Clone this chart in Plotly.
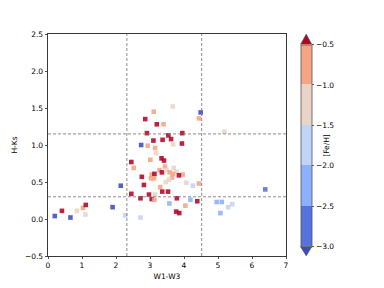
import plotly.graph_objects as go

# ---- data ----
R, S, P, L, M, D, B = -0.3, -0.75, -1.25, -1.75, -2.25, -2.75, -3.2

w1w3 = [0.20, 0.41, 0.66, 0.85, 1.03, 1.10, 1.11, 1.90, 2.14, 2.27,
        2.72, 2.45, 2.72, 2.76, 2.97, 3.05, 3.13, 3.15, 2.82, 3.30,
        3.36, 3.53, 3.46, 4.07, 4.26, 4.44, 3.79, 3.57, 4.19, 4.39,
        4.04, 3.77, 3.86, 4.96, 5.11, 5.42, 5.30, 5.07, 6.39, 2.45,
        2.52, 3.01, 3.34, 3.41, 3.44, 3.28, 3.35, 3.48, 3.58, 3.70,
        3.78, 3.68, 3.96, 3.85, 3.05, 3.13, 3.03, 3.12, 3.65, 3.56,
        2.93, 2.74, 3.10, 3.37, 3.62, 3.68, 3.94, 3.15, 3.18, 2.91,
        3.54, 3.95, 5.19, 2.86, 3.20, 3.40, 3.11, 3.67, 4.49, 4.44]
hks = [0.04, 0.11, 0.02, 0.11, 0.15, 0.06, 0.19, 0.16, 0.45, 0.05,
       0.02, 0.34, 0.28, 0.57, 0.33, 0.27, 0.26, 0.33, 0.46, 0.43,
       0.37, 0.37, 0.50, 0.49, 0.45, 0.48, 0.28, 0.21, 0.26, 0.24,
       0.18, 0.10, 0.08, 0.23, 0.23, 0.20, 0.16, 0.08, 0.40, 0.77,
       0.69, 0.80, 0.82, 0.79, 0.71, 0.66, 0.63, 0.66, 0.63, 0.69,
       0.64, 0.61, 0.60, 0.59, 0.60, 0.61, 0.55, 0.55, 0.56, 0.53,
       0.99, 1.00, 1.06, 1.07, 1.08, 1.01, 1.02, 0.96, 0.89, 1.16,
       1.13, 1.16, 1.18, 1.35, 1.28, 1.28, 1.45, 1.52, 1.44, 1.36]
feh = [B, R, B, P, S, P, R, B, B, L,
       L, R, R, R, R, R, S, P, R, S,
       R, R, P, P, L, S, R, M, M, R,
       S, R, R, M, M, L, L, M, D, R,
       S, S, R, R, S, S, R, P, S, P,
       P, S, S, R, S, R, S, S, S, P,
       S, B, R, R, R, P, R, S, P, R,
       R, R, P, R, R, S, S, P, B, S]

vlines = [2.32, 4.52]
hlines = [1.15, 0.30]

bounds = [-3.0, -2.5, -2.0, -1.5, -1.0, -0.5]
bin_colors = ["#5572df", "#8db0fe", "#c0d4f5", "#ebd3c6", "#f5a486"]
under_color = "#3b4cc0"
over_color = "#b40426"
cbar_ticks = [-3.0, -2.5, -2.0, -1.5, -1.0, -0.5]


def color_for(v):
    if v < bounds[0]:
        return under_color
    if v >= bounds[-1]:
        return over_color
    for i in range(len(bin_colors)):
        if bounds[i] <= v < bounds[i + 1]:
            return bin_colors[i]
    return over_color


# discrete colorscale for colorbar
n = len(bin_colors)
cscale = []
for i, c in enumerate(bin_colors):
    cscale.append([i / n, c])
    cscale.append([(i + 1) / n, c])

FONT = "DejaVu Sans"
W, H = 384, 288
ml, mr, mt, mb = 48, 98, 34, 32
pw, ph = W - ml - mr, H - mt - mb


def px2paper_x(px):
    return (px - ml) / pw


def px2paper_y(py):
    return (H - mb - py) / ph


fig = go.Figure()
fig.add_trace(go.Scatter(
    x=w1w3, y=hks, mode="markers",
    marker=dict(symbol="square", size=4.6, color=[color_for(v) for v in feh],
                opacity=0.88, line=dict(width=0)),
    showlegend=False, hoverinfo="skip"))

cb_left, cb_right, cb_top, cb_bot = 300.7, 311.7, 44.3, 246.7
fig.add_trace(go.Scatter(
    x=[-10], y=[-10], mode="markers", showlegend=False, hoverinfo="skip",
    marker=dict(color=[-3], cmin=bounds[0], cmax=bounds[-1], colorscale=cscale,
                showscale=True, size=1,
                colorbar=dict(
                    x=px2paper_x(cb_left), xanchor="left", xpad=0,
                    y=px2paper_y((cb_top + cb_bot) / 2), yanchor="middle", ypad=0,
                    lenmode="pixels", len=cb_bot - cb_top,
                    thicknessmode="pixels", thickness=cb_right - cb_left,
                    outlinewidth=0.8, outlinecolor="#555",
                    tickvals=cbar_ticks, tickformat=".1f",
                    ticks="outside", ticklen=2.5, tickwidth=0.8, tickcolor="#333",
                    tickfont=dict(family=FONT, size=7.5, color="black"),
                    title=dict(text="[Fe/H]", side="right",
                               font=dict(family=FONT, size=7.5, color="black")),
                ))))

# extension triangles of colorbar
xl, xr = px2paper_x(cb_left), px2paper_x(cb_right)
xm = (xl + xr) / 2
yt, yta = px2paper_y(cb_top), px2paper_y(34.3)
yb, yba = px2paper_y(cb_bot), px2paper_y(255.7)
fig.add_shape(type="path", xref="paper", yref="paper",
              path=f"M {xl} {yt} L {xr} {yt} L {xm} {yta} Z",
              fillcolor=over_color, line=dict(color="#555", width=0.8))
fig.add_shape(type="path", xref="paper", yref="paper",
              path=f"M {xl} {yb} L {xr} {yb} L {xm} {yba} Z",
              fillcolor=under_color, line=dict(color="#555", width=0.8))

for v in vlines:
    fig.add_vline(x=v, line=dict(color="#808080", width=0.9, dash="3px,2px"))
for h in hlines:
    fig.add_hline(y=h, line=dict(color="#808080", width=0.9, dash="3px,2px"))

axis_common = dict(showgrid=False, zeroline=False, showline=True, mirror=True,
                   linecolor="#222", linewidth=0.9, ticks="outside", ticklen=2.5,
                   tickwidth=0.8, tickcolor="#222",
                   tickfont=dict(family=FONT, size=7.5, color="black"))
fig.update_xaxes(range=[0, 7], dtick=1, tick0=0,
                 title=dict(text="W1-W3", font=dict(family=FONT, size=7.5, color="black"),
                            standoff=4),
                 **axis_common)
fig.update_yaxes(range=[-0.5, 2.5], dtick=0.5, tick0=0, tickformat=".1f",
                 title=dict(text="H-Ks", font=dict(family=FONT, size=7.5, color="black"),
                            standoff=6),
                 **axis_common)

fig.update_layout(width=W, height=H, margin=dict(l=ml, r=mr, t=mt, b=mb, autoexpand=False),
                  plot_bgcolor="white", paper_bgcolor="white",
                  font=dict(family=FONT, size=7.5, color="black"))

fig.write_html("out.html", config={"displayModeBar": False, "staticPlot": True},
               post_script="document.body.style.margin='0';document.body.style.overflow='hidden';")
